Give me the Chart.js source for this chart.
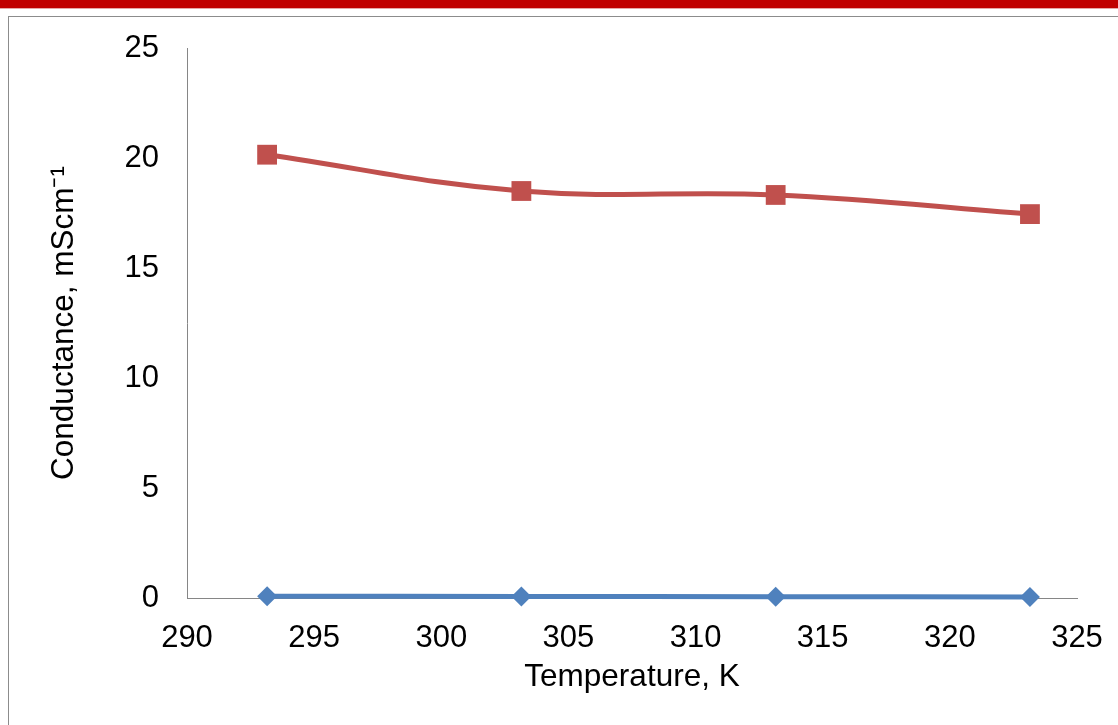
<!DOCTYPE html>
<html>
<head>
<meta charset="utf-8">
<script src="https://cdn.jsdelivr.net/npm/chart.js@4/dist/chart.umd.min.js"></script>
<style>
  html, body { margin: 0; padding: 0; background: #fff; }
  #bar { position: absolute; left: 0; top: 0; width: 1118px; height: 8px; background: #c00000; border-bottom: 1px solid #e6a6a6; }
  #frame { position: absolute; left: 8px; top: 16px; width: 1200px; height: 800px; border: 1px solid #8c8c8c; }
  #wrap { position: absolute; left: 0; top: 0; width: 1118px; height: 725px; }
</style>
</head>
<body>
<div id="bar"></div>
<div id="frame"></div>
<div id="wrap"><canvas id="chart" width="1118" height="725"></canvas></div>
<script>
  // values
  var temperatures = [293.15, 303.15, 313.15, 323.15];
  var seriesRed = [20.15, 18.5, 18.32, 17.45];
  var seriesBlue = [0.08, 0.07, 0.06, 0.05];
  var xTitle = 'Temperature, K';
  var yTitle = 'Conductance, mScm\u207B\u00B9';

  function toPoints(ys) {
    return temperatures.map(function (t, i) { return { x: t, y: ys[i] }; });
  }

  var font = { family: '"Liberation Sans", Arial, sans-serif', size: 31 };
  var titleFont = { family: '"Liberation Sans", Arial, sans-serif', size: 31.5 };

  new Chart(document.getElementById('chart'), {
    type: 'line',
    data: {
      datasets: [{
        data: toPoints(seriesBlue),
        borderColor: '#4f81bd',
        backgroundColor: '#4f81bd',
        borderWidth: 5,
        pointStyle: 'rectRot',
        pointRadius: 10,
        pointBorderWidth: 0,
        tension: 0.4
      }, {
        data: toPoints(seriesRed),
        borderColor: '#c0504d',
        backgroundColor: '#c0504d',
        borderWidth: 5,
        pointStyle: 'rect',
        pointRadius: 14,
        pointBorderWidth: 0,
        tension: 0.4
      }]
    },
    options: {
      responsive: false,
      animation: false,
      clip: false,
      layout: { padding: { top: 48, right: 41, bottom: 0, left: 0 } },
      plugins: { legend: { display: false }, tooltip: { enabled: false } },
      scales: {
        x: {
          type: 'linear',
          min: 290,
          max: 325,
          ticks: { stepSize: 5, color: '#000', font: font, padding: 22, maxRotation: 0 },
          grid: { display: false, drawTicks: false },
          border: { color: '#868686', width: 1 },
          title: { display: true, text: xTitle, color: '#000', font: titleFont, padding: { top: 0, bottom: 29 } },
          afterFit: function (s) {
            s.height = 127;
            // keep the plot edges where the layout padding puts them
            s.paddingLeft = 0;
            s.paddingRight = 0;
          }
        },
        y: {
          min: 0,
          max: 25,
          ticks: { stepSize: 5, color: '#000', font: font, padding: 28 },
          grid: { display: false, drawTicks: false },
          border: { color: '#868686', width: 1 },
          title: { display: true, text: yTitle, color: '#000', font: titleFont, padding: { top: 45, bottom: 0 } },
          afterFit: function (s) { s.width = 187; }
        }
      }
    }
  });
</script>
</body>
</html>
